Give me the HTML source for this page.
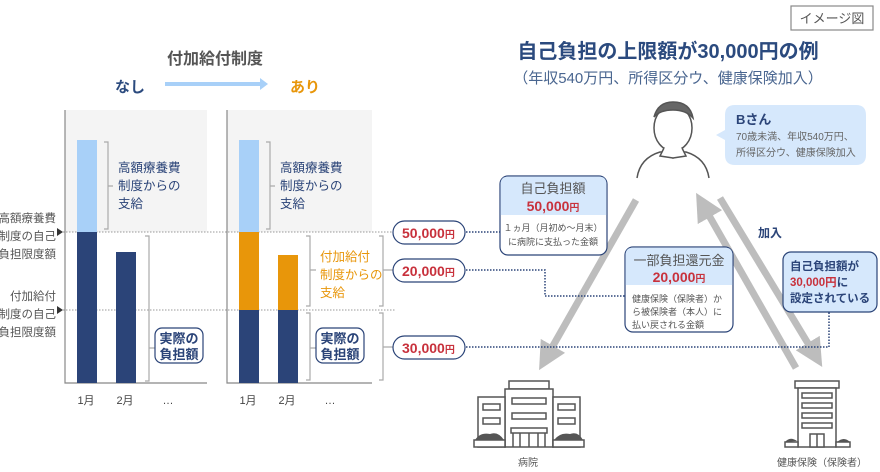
<!DOCTYPE html>
<html><head><meta charset="utf-8"><style>
body{margin:0;background:#fff}
svg{display:block;font-family:"Liberation Sans","Noto Sans CJK JP",sans-serif}
</style></head><body>
<svg width="880" height="472" viewBox="0 0 880 472" xmlns="http://www.w3.org/2000/svg">
<defs>
<marker id="ah" markerWidth="4" markerHeight="4" refX="2" refY="2" orient="auto" markerUnits="strokeWidth"><path d="M0,0 L4,2 L0,4 z" fill="#bdbdbd"/></marker>
</defs>
<rect x="791" y="6" width="82" height="24" fill="#fff" stroke="#888" stroke-width="1.2"/>
<text x="832" y="23" font-size="13" fill="#555" text-anchor="middle">イメージ図</text>
<text x="215" y="64" font-size="16" font-weight="bold" fill="#555" text-anchor="middle">付加給付制度</text>
<text x="130" y="92" font-size="15" font-weight="bold" fill="#2b4a7e" text-anchor="middle">なし</text>
<line x1="165" y1="84" x2="262" y2="84" stroke="#a8d0f8" stroke-width="4"/>
<path d="M260,78 L268,84 L260,90 z" fill="#a8d0f8"/>
<text x="305" y="92" font-size="15" font-weight="bold" fill="#e8960a" text-anchor="middle">あり</text>
<rect x="65" y="110" width="142" height="122" fill="#f4f4f4"/>
<rect x="227" y="110" width="145" height="122" fill="#f4f4f4"/>
<line x1="60" y1="232" x2="395" y2="232" stroke="#999" stroke-dasharray="1.5,1.5"/>
<line x1="60" y1="310" x2="395" y2="310" stroke="#999" stroke-dasharray="1.5,1.5"/>
<path d="M65,110 V383 H207" fill="none" stroke="#888" stroke-width="1.2"/>
<path d="M227,110 V383 H372" fill="none" stroke="#888" stroke-width="1.2"/>
<rect x="77" y="140" width="20" height="92" fill="#a8d0f8"/>
<rect x="77" y="232" width="20" height="151" fill="#2b4478"/>
<rect x="116" y="252" width="20" height="131" fill="#2b4478"/>
<rect x="239" y="140" width="20" height="92" fill="#a8d0f8"/>
<rect x="239" y="232" width="20" height="78" fill="#e8960a"/>
<rect x="239" y="310" width="20" height="73" fill="#2b4478"/>
<rect x="278" y="255" width="20" height="55" fill="#e8960a"/>
<rect x="278" y="310" width="20" height="73" fill="#2b4478"/>
<g fill="none" stroke="#aaa" stroke-width="1.2">
<path d="M104,142 H108 V229 H104 M108,186 H113"/>
<path d="M145,236 H149 V381 H145 M149,348 H155"/>
<path d="M266,142 H270 V229 H266 M270,186 H275"/>
<path d="M306,236 H310 V306 H306 M310,270 H316"/>
<path d="M306,313 H310 V380 H306 M310,348 H316"/>
<path d="M379,236 H383 V306 H379 M383,270 H393"/>
<path d="M379,313 H383 V380 H379 M383,347 H393"/>
</g>
<g font-size="12.5" fill="#2b4478">
<text x="118" y="172">高額療養費</text><text x="118" y="190">制度からの</text><text x="118" y="208">支給</text>
<text x="280" y="172">高額療養費</text><text x="280" y="190">制度からの</text><text x="280" y="208">支給</text>
</g>
<g font-size="12.5" fill="#e8960a">
<text x="320" y="261">付加給付</text><text x="320" y="279">制度からの</text><text x="320" y="297">支給</text>
</g>
<rect x="155" y="328" width="48" height="35" rx="7" fill="#fff" stroke="#2b4478" stroke-width="1.2"/>
<text x="179" y="343" font-size="13" font-weight="bold" fill="#2b4478" text-anchor="middle">実際の</text>
<text x="179" y="359" font-size="13" font-weight="bold" fill="#2b4478" text-anchor="middle">負担額</text>
<rect x="316" y="328" width="48" height="35" rx="7" fill="#fff" stroke="#2b4478" stroke-width="1.2"/>
<text x="340" y="343" font-size="13" font-weight="bold" fill="#2b4478" text-anchor="middle">実際の</text>
<text x="340" y="359" font-size="13" font-weight="bold" fill="#2b4478" text-anchor="middle">負担額</text>
<g font-size="11.5" fill="#555" text-anchor="end">
<text x="56" y="222">高額療養費</text><text x="56" y="240">制度の自己</text><text x="56" y="258">負担限度額</text>
<text x="56" y="300">付加給付</text><text x="56" y="318">制度の自己</text><text x="56" y="336">負担限度額</text>
</g>
<path d="M57,228 L63,232 L57,236 z M57,306 L63,310 L57,314 z" fill="#333"/>
<g font-size="11" fill="#444" text-anchor="middle">
<text x="86" y="404">1月</text><text x="125" y="404">2月</text><text x="168" y="404">…</text>
<text x="248" y="404">1月</text><text x="287" y="404">2月</text><text x="330" y="404">…</text>
</g>
<text x="668" y="58" font-size="20" font-weight="bold" fill="#2b4a7e" text-anchor="middle">自己負担の上限額が30,000円の例</text>
<text x="668" y="83" font-size="15" fill="#4a6690" text-anchor="middle">（年収540万円、所得区分ウ、健康保険加入）</text>
<g fill="#fff" stroke="#555" stroke-width="1.5">
<path d="M637,178 Q640,158 660,152 L686,152 Q706,158 709,178"/>
<ellipse cx="673" cy="128" rx="19" ry="23"/>
<path d="M654,117 Q658,102 673,102 Q690,102 693,118 Q686,110 673,110 Q660,110 654,117 z" fill="#666"/>
<path d="M664,148 L673,158 L682,148"/>
<path d="M664,148 L660,156 L673,158 L686,156 L682,148"/>
</g>
<path d="M735,105 H856 Q866,105 866,115 V155 Q866,165 856,165 H735 Q725,165 725,155 V140 L716,135 L725,130 V115 Q725,105 735,105 z" fill="#d6e8fc"/>
<text x="736" y="124" font-size="13" font-weight="bold" fill="#2b4478">Bさん</text>
<text x="736" y="140" font-size="10" fill="#666">70歳未満、年収540万円、</text>
<text x="736" y="156" font-size="10" fill="#666">所得区分ウ、健康保険加入</text>
<g stroke="#bdbdbd" stroke-width="7" fill="none">
<line x1="636" y1="200" x2="546" y2="358" marker-end="url(#ah)"/>
<line x1="796" y1="368" x2="703" y2="205" marker-end="url(#ah)"/>
<line x1="720" y1="198" x2="815" y2="355" marker-end="url(#ah)"/>
</g>
<text x="770" y="237" font-size="12" font-weight="bold" fill="#2b4478" text-anchor="middle">加入</text>
<g stroke="#2b4478" stroke-width="1.5" stroke-dasharray="1.5,1.5" fill="none">
<line x1="466" y1="232" x2="500" y2="232"/>
<path d="M466,270 H545 V296 H625"/>
<path d="M466,347 H829 V312"/>
</g>
<g font-size="14" font-weight="bold" fill="#c8313c">
<rect x="393" y="221" width="72" height="23" rx="11.5" fill="#fff" stroke="#2b4478" stroke-width="1.2"/>
<text x="402" y="238">50,000<tspan font-size="10">円</tspan></text>
<rect x="393" y="259" width="72" height="23" rx="11.5" fill="#fff" stroke="#2b4478" stroke-width="1.2"/>
<text x="402" y="276">20,000<tspan font-size="10">円</tspan></text>
<rect x="393" y="336" width="72" height="23" rx="11.5" fill="#fff" stroke="#2b4478" stroke-width="1.2"/>
<text x="402" y="353">30,000<tspan font-size="10">円</tspan></text>
</g>
<rect x="500" y="176" width="107" height="79" rx="8" fill="#fff" stroke="#2b4478" stroke-width="1.2"/>
<path d="M508,176.6 H599 Q606.4,176.6 606.4,184 V215 H500.6 V184 Q500.6,176.6 508,176.6 z" fill="#d6e8fc"/>
<text x="553" y="193" font-size="13" fill="#555" text-anchor="middle">自己負担額</text>
<text x="553" y="211" font-size="14" font-weight="bold" fill="#c8313c" text-anchor="middle">50,000<tspan font-size="10">円</tspan></text>
<text x="553" y="231" font-size="9" fill="#555" text-anchor="middle">１ヵ月（月初め～月末）</text>
<text x="553" y="245" font-size="9" fill="#555" text-anchor="middle">に病院に支払った金額</text>
<rect x="625" y="247" width="108" height="85" rx="8" fill="#fff" stroke="#2b4478" stroke-width="1.2"/>
<path d="M633,247.6 H725 Q732.4,247.6 732.4,255 V285 H625.6 V255 Q625.6,247.6 633,247.6 z" fill="#d6e8fc"/>
<text x="679" y="265" font-size="13" fill="#555" text-anchor="middle">一部負担還元金</text>
<text x="679" y="282" font-size="14" font-weight="bold" fill="#c8313c" text-anchor="middle">20,000<tspan font-size="10">円</tspan></text>
<text x="632" y="302" font-size="9" fill="#555">健康保険（保険者）か</text>
<text x="632" y="315" font-size="9" fill="#555">ら被保険者（本人）に</text>
<text x="632" y="328" font-size="9" fill="#555">払い戻される金額</text>
<rect x="783" y="252" width="94" height="60" rx="8" fill="#d6e8fc" stroke="#2b4478" stroke-width="1.2"/>
<text x="790" y="270" font-size="11.5" font-weight="bold" fill="#2b4478">自己負担額が</text>
<text x="790" y="286" font-size="11.5" font-weight="bold" fill="#c8313c">30,000円<tspan fill="#2b4478">に</tspan></text>
<text x="790" y="302" font-size="11.5" font-weight="bold" fill="#2b4478">設定されている</text>
<g fill="#fff" stroke="#555" stroke-width="1.5">
<rect x="509" y="381" width="40" height="8"/>
<rect x="505" y="389" width="48" height="58"/>
<rect x="478" y="397" width="27" height="50"/>
<rect x="553" y="397" width="27" height="50"/>
<rect x="512" y="398" width="34" height="6"/><rect x="512" y="413" width="34" height="6"/>
<rect x="483" y="404" width="17" height="6"/><rect x="483" y="418" width="17" height="6"/>
<rect x="558" y="404" width="17" height="6"/><rect x="558" y="418" width="17" height="6"/>
<rect x="511" y="428" width="36" height="5"/>
<path d="M513,433 V447 M520,433 V447 M529,433 V447 M538,433 V447 M545,433 V447"/>
<rect x="474" y="440" width="31" height="7"/><rect x="553" y="440" width="31" height="7"/>
</g>
<path d="M475,440 Q480,432 490,434 Q498,431 504,440 z M554,440 Q560,432 570,434 Q578,431 583,440 z" fill="#555"/>
<text x="528" y="466" font-size="10" fill="#555" text-anchor="middle">病院</text>
<g fill="#fff" stroke="#555" stroke-width="1.5">
<rect x="795" y="381" width="44" height="7"/>
<rect x="798" y="388" width="38" height="59"/>
<rect x="802" y="393" width="30" height="5"/><rect x="802" y="403" width="30" height="5"/>
<rect x="802" y="413" width="30" height="5"/><rect x="802" y="423" width="30" height="5"/>
<rect x="810" y="434" width="14" height="13"/><path d="M817,434 V447"/>
<rect x="785" y="442" width="13" height="5"/><rect x="836" y="442" width="14" height="5"/>
</g>
<path d="M785,442 Q790,436 797,441 z M837,442 Q844,436 850,442 z" fill="#555"/>
<text x="822" y="466" font-size="10" fill="#555" text-anchor="middle">健康保険（保険者）</text>
</svg>
</body></html>
